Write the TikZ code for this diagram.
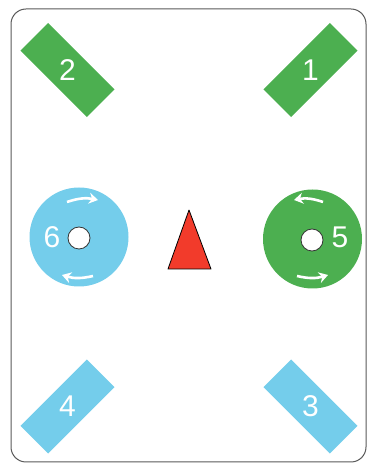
\documentclass[tikz,border=0pt]{standalone}
\usepackage{fontspec}
\setmainfont{Liberation Sans}
\usetikzlibrary{arrows.meta}
\definecolor{padgreen}{HTML}{4CAF50}
\definecolor{padblue}{HTML}{74CDEB}
\definecolor{conered}{HTML}{F23B2B}
\begin{document}
\begin{tikzpicture}[x=1pt, y=1pt,
	pad/.style={rectangle, minimum width=94pt, minimum height=39pt, inner sep=0pt},
	wheel/.style={circle, minimum size=99pt, inner sep=0pt},
	hole/.style={circle, draw=black!80, line width=0.8pt, fill=white, minimum size=22pt, inner sep=0pt},
	num/.style={text=white, font=\fontsize{30}{30}\selectfont, inner sep=0pt},
	spin/.style={white, line width=2.6pt, -{Stealth[length=9pt, width=11pt]}}]
						\useasboundingbox (0,0) rectangle (369,464);
						\draw[black!65, line width=1pt, rounded corners=15pt] (11,2) rectangle (366,455);
						\node[pad, fill=padgreen, rotate=45] (p1) at (310.5,394) {};
						\node[pad, fill=padgreen, rotate=-45] (p2) at (67.5,394) {};
						\node[pad, fill=padblue, rotate=-45] (p3) at (310.5,57.5) {};
						\node[pad, fill=padblue, rotate=45] (p4) at (67.5,57.5) {};
						\node[num] at (p1) {1};
						\node[num] at (p2) {2};
						\node[num] at (p3) {3};
						\node[num] at (p4) {4};
						\node[wheel, fill=padgreen] (w5) at (312.5,225) {};
						\node[wheel, fill=padblue] (w6) at (79,227) {};
						\node[hole] (h5) at (312,224) {};
						\node[hole] (h6) at (79,226) {};
						\node[num] (n5) at (340,227) {5};
						\node[num] (n6) at (52,227) {6};
						\draw[spin] ([shift={(-12,35)}]w6.center) to[bend left=15] ([shift={(19,37)}]w6.center);
						\draw[spin] ([shift={(14,-39)}]w6.center) to[bend left=15] ([shift={(-17,-38)}]w6.center);
						\draw[spin] ([shift={(10.5,37)}]w5.center) to[bend right=15] ([shift={(-18.5,39)}]w5.center);
						\draw[spin] ([shift={(-15.5,-37)}]w5.center) to[bend right=15] ([shift={(15.5,-36)}]w5.center);
						\draw[fill=conered, line width=0.8pt, line join=round] (189,254) -- (211,195) -- (168,195) -- cycle;
					\end{tikzpicture}
\end{document}
